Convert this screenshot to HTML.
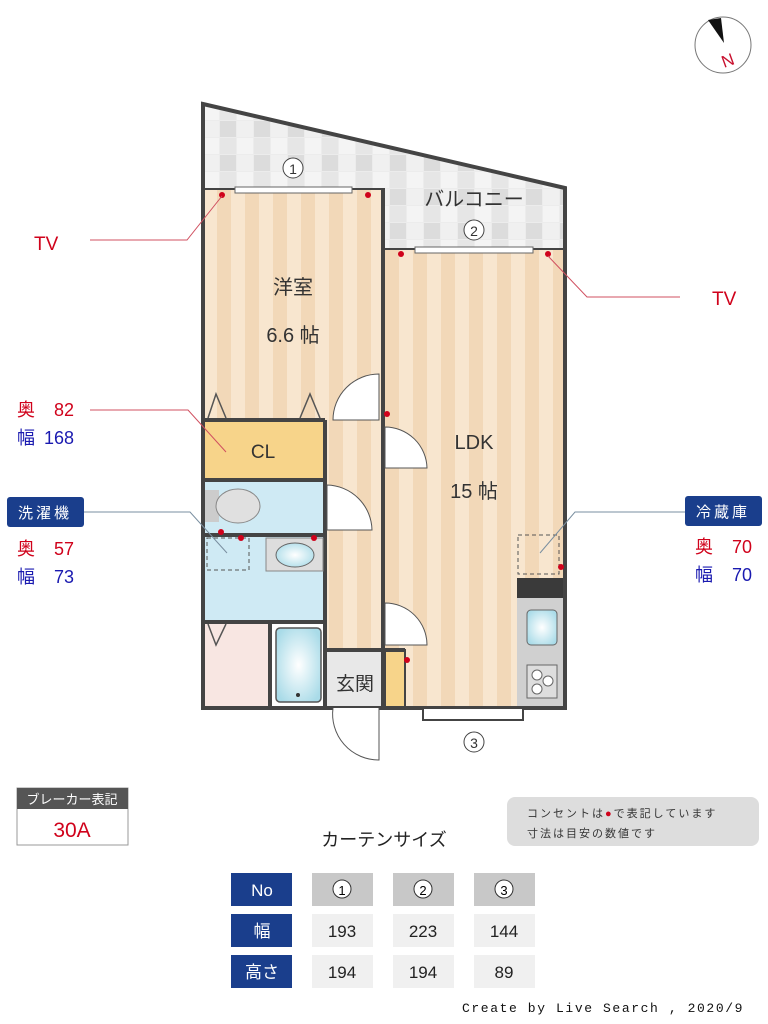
<!DOCTYPE html>
<html><head><meta charset="utf-8"><style>
html,body{margin:0;padding:0;background:#fff;}
svg{display:block;}
text{font-family:"Liberation Sans","Noto Sans CJK JP",sans-serif;}
</style></head><body>
<svg width="768" height="1024" viewBox="0 0 768 1024" xmlns="http://www.w3.org/2000/svg">
<defs>
<pattern id="st" x="203" y="0" width="28" height="10" patternUnits="userSpaceOnUse">
<rect width="28" height="10" fill="#f8e6cf"/><rect x="14" width="14" height="10" fill="#f2d8b8"/>
</pattern>
<pattern id="tile" x="203" y="104" width="34" height="34" patternUnits="userSpaceOnUse">
<rect width="34" height="34" fill="#ececec"/>
<rect width="16" height="16" fill="#f4f4f4"/><rect x="17" y="17" width="16" height="16" fill="#dcdcdc"/>
<rect x="17" width="16" height="16" fill="#e6e6e6"/><rect y="17" width="16" height="16" fill="#f0f0f0"/>
</pattern>
<radialGradient id="bl" cx="0.5" cy="0.5" r="0.6"><stop offset="0" stop-color="#ffffff"/><stop offset="1" stop-color="#a9dbe8"/></radialGradient>
</defs>

<!-- compass -->
<circle cx="723" cy="45" r="28" fill="#fff" stroke="#777" stroke-width="1"/>
<polygon points="708,20 721,18 724,43" fill="#111"/>
<text x="0" y="0" font-size="17" fill="#c8102e" transform="translate(724,68) rotate(-20)">N</text>

<!-- balcony -->
<polygon points="203,104 565,188 565,250 383,250 383,190 203,190" fill="url(#tile)" stroke="#444" stroke-width="4"/>
<text x="474" y="206" font-size="20" fill="#333" text-anchor="middle">バルコニー</text>
<circle cx="293" cy="168" r="10" fill="#fff" stroke="#444"/><text x="293" y="174" font-size="14" text-anchor="middle" fill="#333">1</text>
<circle cx="474" cy="230" r="10" fill="#fff" stroke="#444"/><text x="474" y="236" font-size="14" text-anchor="middle" fill="#333">2</text>

<!-- rooms floor -->
<rect x="203" y="190" width="180" height="232" fill="url(#st)"/>
<rect x="383" y="250" width="182" height="458" fill="url(#st)"/>
<rect x="325" y="420" width="58" height="230" fill="url(#st)"/>
<rect x="203" y="420" width="122" height="60" fill="#f7d48a"/>
<rect x="203" y="480" width="122" height="55" fill="#cfeaf4"/>
<rect x="203" y="535" width="122" height="87" fill="#cfeaf4"/>
<rect x="203" y="622" width="67" height="86" fill="#f8e6e2"/>
<rect x="270" y="622" width="55" height="86" fill="#fff"/>
<rect x="276" y="628" width="45" height="74" rx="4" fill="url(#bl)" stroke="#555" stroke-width="1.5"/>
<circle cx="298" cy="695" r="2" fill="#333"/>
<rect x="325" y="650" width="60" height="58" fill="#e8e8e8"/>
<rect x="385" y="650" width="20" height="58" fill="#f7d48a" stroke="#444" stroke-width="2"/>
<rect x="517" y="578" width="46" height="20" fill="#3a3a3a"/>
<rect x="517" y="598" width="46" height="110" fill="#d0d0d0"/>
<rect x="527" y="610" width="30" height="35" rx="4" fill="url(#bl)" stroke="#666"/>
<rect x="527" y="665" width="30" height="33" fill="#ddd" stroke="#666"/>
<circle cx="537" cy="675" r="5" fill="#fff" stroke="#666"/><circle cx="548" cy="681" r="5" fill="#fff" stroke="#666"/><circle cx="537" cy="689" r="5" fill="#fff" stroke="#666"/>

<!-- walls -->
<g stroke="#444" stroke-width="4" fill="none">
<path d="M203,190 V708 H565 V250"/>
<path d="M383,190 V708"/>
<line x1="203" y1="420" x2="325" y2="420"/>
<line x1="325" y1="420" x2="325" y2="708"/>
<line x1="203" y1="480" x2="325" y2="480"/>
<line x1="203" y1="535" x2="325" y2="535"/>
<line x1="203" y1="622" x2="325" y2="622"/>
<line x1="270" y1="622" x2="270" y2="708"/>
<line x1="325" y1="650" x2="405" y2="650"/>
</g>
<rect x="235" y="187" width="117" height="6" fill="#fff" stroke="#666" stroke-width="1"/>
<rect x="415" y="247" width="118" height="6" fill="#fff" stroke="#666" stroke-width="1"/>
<rect x="423" y="708" width="100" height="12" fill="#fff" stroke="#444" stroke-width="2"/>
<circle cx="474" cy="742" r="10" fill="#fff" stroke="#444"/><text x="474" y="748" font-size="14" text-anchor="middle" fill="#333">3</text>

<!-- doors -->
<g fill="#fff" stroke="#555" stroke-width="1">
<path d="M379,420 V374 A46,46 0 0 0 333,420 Z"/>
<path d="M385,427 A42,42 0 0 1 427,468 H385 Z"/>
<path d="M327,485 A46,46 0 0 1 372,530 H327 Z"/>
<path d="M385,603 A42,42 0 0 1 427,645 H385 Z"/>
<path d="M379,708 V760 A46,46 0 0 1 333,708"/>
</g>
<g fill="none" stroke="#555" stroke-width="1.5">
<path d="M208,418 L216,394 L226,418"/><path d="M300,418 L310,394 L320,418"/>
<path d="M208,624 L216,645 L226,624"/>
</g>
<rect x="205" y="490" width="14" height="32" fill="#ccc"/>
<ellipse cx="238" cy="506" rx="22" ry="17" fill="#e0e0e0" stroke="#888"/>
<rect x="266" y="538" width="57" height="33" fill="#ddd" stroke="#888"/>
<ellipse cx="295" cy="555" rx="19" ry="12" fill="url(#bl)" stroke="#666"/>
<rect x="207" y="538" width="42" height="32" fill="none" stroke="#555" stroke-dasharray="4,3"/>
<rect x="518" y="535" width="41" height="39" fill="none" stroke="#555" stroke-dasharray="4,3"/>

<g fill="#d0021b">
<circle cx="222" cy="195" r="3"/><circle cx="368" cy="195" r="3"/>
<circle cx="401" cy="254" r="3"/><circle cx="548" cy="254" r="3"/>
<circle cx="387" cy="414" r="3"/><circle cx="221" cy="532" r="3"/><circle cx="241" cy="538" r="3"/><circle cx="314" cy="538" r="3"/>
<circle cx="561" cy="567" r="3"/><circle cx="407" cy="660" r="3"/>
</g>

<g fill="#333" text-anchor="middle">
<text x="293" y="294" font-size="20">洋室</text>
<text x="293" y="342" font-size="20">6.6 帖</text>
<text x="263" y="458" font-size="19">CL</text>
<text x="474" y="449" font-size="20">LDK</text>
<text x="474" y="498" font-size="20">15 帖</text>
<text x="355" y="690" font-size="19">玄関</text>
</g>

<g fill="none" stroke-width="1">
<path d="M90,240 H187 L222,196" stroke="#d05060"/>
<path d="M548,256 L587,297 H680" stroke="#d05060"/>
<path d="M90,410 H188 L226,452" stroke="#d05060"/>
<path d="M84,512 H190 L227,553" stroke="#7a8fa0"/>
<path d="M685,512 H575 L540,553" stroke="#7a8fa0"/>
</g>
<text x="34" y="250" font-size="19" fill="#d0021b">TV</text>
<text x="712" y="305" font-size="19" fill="#d0021b">TV</text>
<text x="17" y="416" font-size="18" fill="#d0021b">奥</text><text x="74" y="416" font-size="18" fill="#d0021b" text-anchor="end">82</text>
<text x="17" y="444" font-size="18" fill="#1a1ab0">幅</text><text x="74" y="444" font-size="18" fill="#1a1ab0" text-anchor="end">168</text>
<rect x="7" y="497" width="77" height="30" rx="3" fill="#1a3e8c"/>
<text x="45" y="518" font-size="15" fill="#fff" text-anchor="middle" letter-spacing="3">洗濯機</text>
<text x="17" y="555" font-size="18" fill="#d0021b">奥</text><text x="74" y="555" font-size="18" fill="#d0021b" text-anchor="end">57</text>
<text x="17" y="583" font-size="18" fill="#1a1ab0">幅</text><text x="74" y="583" font-size="18" fill="#1a1ab0" text-anchor="end">73</text>
<rect x="685" y="496" width="77" height="30" rx="3" fill="#1a3e8c"/>
<text x="723" y="517" font-size="15" fill="#fff" text-anchor="middle" letter-spacing="3">冷蔵庫</text>
<text x="695" y="553" font-size="18" fill="#d0021b">奥</text><text x="752" y="553" font-size="18" fill="#d0021b" text-anchor="end">70</text>
<text x="695" y="581" font-size="18" fill="#1a1ab0">幅</text><text x="752" y="581" font-size="18" fill="#1a1ab0" text-anchor="end">70</text>

<rect x="17" y="788" width="111" height="57" fill="#fff" stroke="#999"/>
<rect x="17" y="788" width="111" height="21" fill="#555"/>
<text x="72" y="804" font-size="13" fill="#fff" text-anchor="middle">ブレーカー表記</text>
<text x="72" y="837" font-size="21" fill="#d0021b" text-anchor="middle">30A</text>

<rect x="507" y="797" width="252" height="49" rx="8" fill="#ddd"/>
<text x="527" y="817" font-size="11" fill="#333" letter-spacing="2">コンセントは<tspan fill="#d0021b">●</tspan>で表記しています</text>
<text x="527" y="837" font-size="11" fill="#333" letter-spacing="2">寸法は目安の数値です</text>

<text x="384" y="846" font-size="18" fill="#222" text-anchor="middle">カーテンサイズ</text>

<g font-size="17" text-anchor="middle">
<rect x="231" y="873" width="61" height="33" fill="#1a3e8c"/><text x="262" y="896" fill="#fff">No</text>
<rect x="231" y="914" width="61" height="33" fill="#1a3e8c"/><text x="262" y="937" fill="#fff">幅</text>
<rect x="231" y="955" width="61" height="33" fill="#1a3e8c"/><text x="262" y="978" fill="#fff">高さ</text>
<rect x="312" y="873" width="61" height="33" fill="#c8c8c8"/><circle cx="342" cy="889" r="9" fill="#fff" stroke="#333"/><text x="342" y="895" font-size="13">1</text>
<rect x="393" y="873" width="61" height="33" fill="#c8c8c8"/><circle cx="423" cy="889" r="9" fill="#fff" stroke="#333"/><text x="423" y="895" font-size="13">2</text>
<rect x="474" y="873" width="61" height="33" fill="#c8c8c8"/><circle cx="504" cy="889" r="9" fill="#fff" stroke="#333"/><text x="504" y="895" font-size="13">3</text>
<rect x="312" y="914" width="61" height="33" fill="#f0f0f0"/><text x="342" y="937" fill="#222">193</text>
<rect x="393" y="914" width="61" height="33" fill="#f0f0f0"/><text x="423" y="937" fill="#222">223</text>
<rect x="474" y="914" width="61" height="33" fill="#f0f0f0"/><text x="504" y="937" fill="#222">144</text>
<rect x="312" y="955" width="61" height="33" fill="#f0f0f0"/><text x="342" y="978" fill="#222">194</text>
<rect x="393" y="955" width="61" height="33" fill="#f0f0f0"/><text x="423" y="978" fill="#222">194</text>
<rect x="474" y="955" width="61" height="33" fill="#f0f0f0"/><text x="504" y="978" fill="#222">89</text>
</g>
<text x="462" y="1012" font-size="13" fill="#111" letter-spacing="1.6" style="font-family:'Liberation Mono',monospace">Create by Live Search , 2020/9</text>
</svg>
</body></html>
